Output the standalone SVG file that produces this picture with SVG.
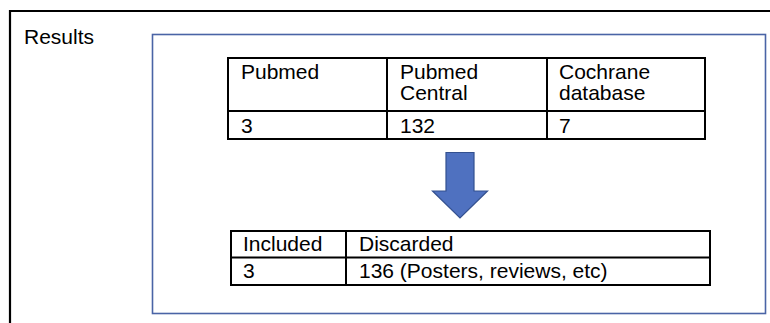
<svg xmlns="http://www.w3.org/2000/svg" width="770" height="323" viewBox="0 0 770 323">
<style>
text { font-family: "Liberation Sans", Arial, sans-serif; font-size: 21px; fill: #000; }
.tbl { fill: none; stroke: #000; stroke-width: 2; }
.ln { stroke: #000; stroke-width: 2; }
</style>
<rect width="770" height="323" fill="#fff"/>
<g id="frame">
<path d="M10,330 V11 H770" fill="none" stroke="#000" stroke-width="2.2"/>
<text x="24" y="44">Results</text>
</g>
<g id="container">
<rect x="152.5" y="34.5" width="613" height="279" fill="none" stroke="#4a64a6" stroke-width="1.6"/>
</g>
<g id="sources">
<rect class="tbl" x="228" y="58" width="477" height="81"/>
<line class="ln" x1="228" y1="111" x2="705" y2="111"/>
<line class="ln" x1="387" y1="58" x2="387" y2="139"/>
<line class="ln" x1="547" y1="58" x2="547" y2="139"/>
<text x="241" y="79">Pubmed</text>
<text x="400" y="79">Pubmed</text>
<text x="400" y="100">Central</text>
<text x="559" y="79">Cochrane</text>
<text x="559" y="100">database</text>
<text x="241" y="133">3</text>
<text x="400" y="133">132</text>
<text x="559" y="133">7</text>
</g>
<g id="connectors">
<path d="M446,152.5 H474 V191 H487.5 L460,218 L432.5,191 H446 Z" fill="#4f71c0" stroke="#33508f" stroke-width="1.2"/>
</g>
<g id="outcome">
<rect class="tbl" x="231" y="231" width="479" height="54"/>
<line class="ln" x1="231" y1="257.5" x2="710" y2="257.5"/>
<line class="ln" x1="346" y1="231" x2="346" y2="285"/>
<text x="243" y="251">Included</text>
<text x="359" y="251">Discarded</text>
<text x="243" y="278">3</text>
<text x="359" y="278">136 (Posters, reviews, etc)</text>
</g>
</svg>
